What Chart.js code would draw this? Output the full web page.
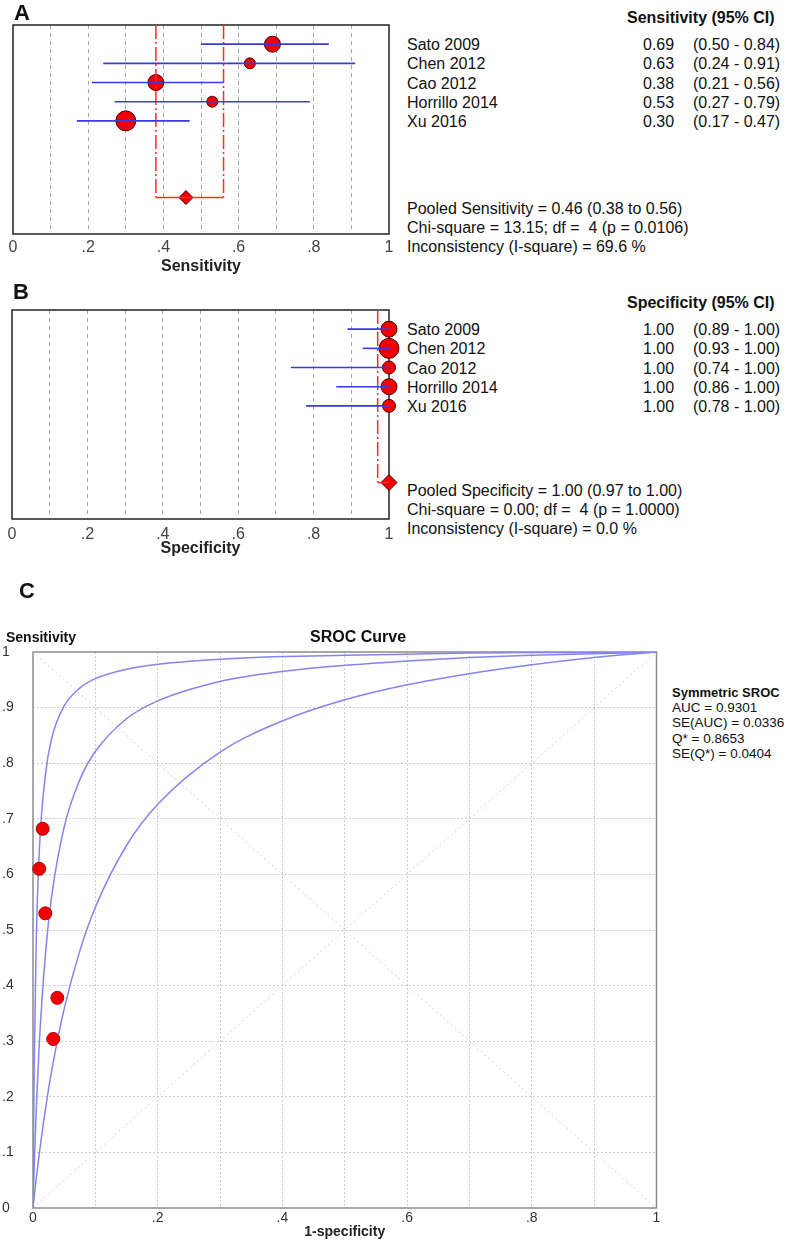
<!DOCTYPE html>
<html>
<head>
<meta charset="utf-8">
<script src="https://cdn.jsdelivr.net/npm/chart.js@4.4.1/dist/chart.umd.min.js"></script>
<style>
body{margin:0;background:#fff;font-family:"Liberation Sans",Arial,sans-serif;color:#111;}
#page{position:relative;width:790px;height:1242px;overflow:hidden;background:#fff;}
canvas{position:absolute;}
.t{position:absolute;white-space:pre;font-size:16px;line-height:20px;}
.b{font-weight:bold;}
</style>
</head>
<body>
<div id="page">
  <canvas id="chartA" width="400" height="280" style="left:0;top:0"></canvas>
  <canvas id="chartB" width="400" height="290" style="left:0;top:280px"></canvas>
  <canvas id="chartC" width="664" height="682" style="left:0;top:560px"></canvas>
</div>
<script>
// study data
const studies = ['Sato 2009', 'Chen 2012', 'Cao 2012', 'Horrillo 2014', 'Xu 2016'];

const sensEst = [0.69, 0.63, 0.38, 0.53, 0.30];
const sensLo  = [0.50, 0.24, 0.21, 0.27, 0.17];
const sensHi  = [0.84, 0.91, 0.56, 0.79, 0.47];
const sensPooled = [0.46, 0.38, 0.56];   // estimate, lower, upper
const sensChi = [13.15, 4, 0.0106];      // chi-square, df, p
const sensIsq = 69.6;

const specEst = [1.00, 1.00, 1.00, 1.00, 1.00];
const specLo  = [0.89, 0.93, 0.74, 0.86, 0.78];
const specHi  = [1.00, 1.00, 1.00, 1.00, 1.00];
const specPooled = [1.00, 0.97, 1.00];
const specChi = [0.00, 4, 1.0000];
const specIsq = 0.0;

const tenthLabels = ['0', '.1', '.2', '.3', '.4', '.5', '.6', '.7', '.8', '.9', '1'];

// SROC: study points (1-specificity, sensitivity)
const srocPtFpr  = [0.0155, 0.010, 0.039, 0.0197, 0.0325];
const srocPtSens = [0.682, 0.610, 0.378, 0.530, 0.304];

// SROC curves
const srocFpr   = [0, 0.001, 0.002, 0.005, 0.01, 0.02, 0.03, 0.05, 0.075, 0.1, 0.15, 0.2, 0.3, 0.4, 0.5, 0.6, 0.7, 0.8, 0.9, 1];
const srocUpper = [0, 0.150, 0.26, 0.47, 0.64, 0.78, 0.845, 0.903, 0.935, 0.952, 0.969, 0.978, 0.987, 0.992, 0.994, 0.996, 0.998, 0.999, 0.999, 1];
const srocMid   = [0, 0.040, 0.076, 0.172, 0.294, 0.457, 0.561, 0.685, 0.770, 0.821, 0.880, 0.912, 0.947, 0.965, 0.976, 0.984, 0.990, 0.994, 0.997, 1];
const srocLower = [0, 0.0105, 0.021, 0.051, 0.097, 0.178, 0.247, 0.358, 0.462, 0.541, 0.652, 0.726, 0.820, 0.876, 0.914, 0.941, 0.961, 0.977, 0.990, 1];

const srocStats = ['AUC = 0.9301', 'SE(AUC) = 0.0336', 'Q* = 0.8653', 'SE(Q*) = 0.0404'];

// marker radii (study weights), style only
const sensRadii = [8, 5.5, 8, 5.5, 10];
const specRadii = [8, 10, 6.5, 8, 6.5];

const RED = '#f00000';
const CI_BLUE = '#3a3ae6';
const page = document.getElementById('page');

function txt(x, y, s, cls, extra) {
  const d = document.createElement('div');
  d.className = 't ' + (cls || '');
  d.textContent = s;
  d.style.left = x + 'px';
  d.style.top = (y - 10) + 'px';
  if (extra) Object.assign(d.style, extra);
  page.appendChild(d);
  return d;
}

const boxPlugin = {
  id: 'box',
  beforeDatasetsDraw(chart, args, opts) {
    const a = chart.chartArea, ctx = chart.ctx;
    ctx.save();
    ctx.strokeStyle = opts.color;
    ctx.lineWidth = opts.width;
    ctx.strokeRect(a.left, a.top, a.right - a.left, a.bottom - a.top);
    ctx.restore();
  }
};

const f2 = v => v.toFixed(2);
const ROW_TOP = -1, ROW_BOTTOM = 9.9, POOLED_ROW = 8;

function forestChart(id, est, lo, hi, pooled, radii, diamondR, axisTitle, pad, tickPad, titlePad) {
  const datasets = [];
  est.forEach((v, i) => {
    datasets.push({data: [{x: lo[i], y: i}, {x: hi[i], y: i}], showLine: true,
      borderColor: CI_BLUE, borderWidth: 1.6, pointRadius: 0, order: 1});
  });
  // dash-dot limits of the pooled CI (the one sitting on the frame is hidden by it)
  [pooled[1], pooled[2]].filter(v => v < 1).forEach(v => {
    datasets.push({data: [{x: v, y: ROW_TOP}, {x: v, y: POOLED_ROW}], showLine: true,
      borderColor: '#ff2a2a', borderWidth: 1.5, borderDash: [14, 3, 2, 3], pointRadius: 0, order: 1});
  });
  datasets.push({data: [{x: pooled[1], y: POOLED_ROW}, {x: pooled[2], y: POOLED_ROW}], showLine: true,
    borderColor: '#ff2a2a', borderWidth: 1.5, pointRadius: 0, order: 1});
  datasets.push({data: est.map((v, i) => ({x: v, y: i})), pointRadius: radii,
    pointBackgroundColor: RED, pointBorderColor: '#4a0000', pointBorderWidth: 1, order: 2, clip: false});
  datasets.push({data: [{x: pooled[0], y: POOLED_ROW}], pointStyle: 'rectRot', pointRadius: diamondR,
    pointBackgroundColor: RED, pointBorderColor: '#4a0000', pointBorderWidth: 1, order: 2, clip: false});

  return new Chart(document.getElementById(id), {
    type: 'scatter',
    data: {datasets},
    options: {
      responsive: false, animation: false, devicePixelRatio: 1,
      layout: {padding: pad},
      plugins: {legend: {display: false}, tooltip: {enabled: false}, box: {color: '#222', width: 1.5}},
      scales: {
        x: {
          type: 'linear', min: 0, max: 1,
          ticks: {stepSize: 0.1, autoSkip: false, maxRotation: 0, padding: tickPad, color: '#444',
            font: {size: 16, family: '"Liberation Sans", Arial'},
            callback: v => { const k = Math.round(v * 10); return k % 2 === 0 ? tenthLabels[k] : ''; }},
          grid: {drawTicks: false, lineWidth: 1,
            color: c => (c.tick && (c.tick.value <= 0.001 || c.tick.value >= 0.999)) ? 'rgba(0,0,0,0)' : '#a8a8a8'},
          border: {display: false, dash: [4, 4]},
          title: {display: true, text: axisTitle, color: '#222',
            font: {size: 16, weight: 'bold', family: '"Liberation Sans", Arial'}, padding: {top: 0, bottom: titlePad}},
          afterFit: s => { s.height = 46; s.paddingLeft = 0; s.paddingRight = 0; }
        },
        y: {type: 'linear', min: ROW_TOP, max: ROW_BOTTOM, reverse: true, display: false}
      }
    },
    plugins: [boxPlugin]
  });
}

const chartA = forestChart('chartA', sensEst, sensLo, sensHi, sensPooled, sensRadii, 7, 'Sensitivity',
  {left: 13, right: 9, top: 25, bottom: 0}, 4, 4);
const chartB = forestChart('chartB', specEst, specLo, specHi, specPooled, specRadii, 8, 'Specificity',
  {left: 12, right: 9, top: 30, bottom: 5}, 6, 7);

function forestText(chart, offsetY, head, est, lo, hi, pooledLines, pooledY) {
  txt(627, offsetY + chart.chartArea.top - 7, head, 'b');
  est.forEach((v, i) => {
    const y = offsetY + chart.scales.y.getPixelForValue(i) + 1;
    txt(407, y, studies[i]);
    txt(643, y, f2(v));
    txt(693, y, '(' + f2(lo[i]) + ' - ' + f2(hi[i]) + ')');
  });
  pooledLines.forEach((s, k) => txt(407, pooledY + k * 19, s));
}

forestText(chartA, 0, 'Sensitivity (95% CI)', sensEst, sensLo, sensHi, [
  'Pooled Sensitivity = ' + f2(sensPooled[0]) + ' (' + f2(sensPooled[1]) + ' to ' + f2(sensPooled[2]) + ')',
  'Chi-square = ' + f2(sensChi[0]) + '; df =  ' + sensChi[1] + ' (p = ' + sensChi[2].toFixed(4) + ')',
  'Inconsistency (I-square) = ' + sensIsq.toFixed(1) + ' %'
], 209);

forestText(chartB, 280, 'Specificity (95% CI)', specEst, specLo, specHi, [
  'Pooled Specificity = ' + f2(specPooled[0]) + ' (' + f2(specPooled[1]) + ' to ' + f2(specPooled[2]) + ')',
  'Chi-square = ' + f2(specChi[0]) + '; df =  ' + specChi[1] + ' (p = ' + specChi[2].toFixed(4) + ')',
  'Inconsistency (I-square) = ' + specIsq.toFixed(1) + ' %'
], 491);

// panel letters
txt(14, 13, 'A', 'b', {fontSize: '22px', lineHeight: '24px', top: '1px'});
txt(13, 292, 'B', 'b', {fontSize: '22px', lineHeight: '24px', top: '280px'});
txt(19, 591, 'C', 'b', {fontSize: '22px', lineHeight: '24px', top: '579px'});

// SROC panel
const toPts = (xs, ys) => xs.map((x, i) => ({x, y: ys[i]}));
const curveStyle = {showLine: true, borderColor: '#8484ee', borderWidth: 1.5, pointRadius: 0,
  cubicInterpolationMode: 'monotone', order: 1};
const diagStyle = {showLine: true, borderColor: '#d4d4d4', borderWidth: 1, borderDash: [2, 3], pointRadius: 0, order: 2};

new Chart(document.getElementById('chartC'), {
  type: 'scatter',
  data: {datasets: [
    {data: toPts(srocPtFpr, srocPtSens), pointRadius: 6.5, pointBackgroundColor: '#f00000',
      pointBorderColor: '#b00000', pointBorderWidth: 1, order: 0, clip: false},
    Object.assign({data: toPts(srocFpr, srocUpper)}, curveStyle),
    Object.assign({data: toPts(srocFpr, srocMid)}, curveStyle),
    Object.assign({data: toPts(srocFpr, srocLower)}, curveStyle),
    Object.assign({data: [{x: 0, y: 0}, {x: 1, y: 1}]}, diagStyle),
    Object.assign({data: [{x: 0, y: 1}, {x: 1, y: 0}]}, diagStyle)
  ]},
  options: {
    responsive: false, animation: false, devicePixelRatio: 1,
    layout: {padding: {left: 2, right: 6, top: 92, bottom: 0}},
    plugins: {legend: {display: false}, tooltip: {enabled: false}, box: {color: '#8a8a8a', width: 1.5}},
    scales: {
      x: {
        type: 'linear', min: 0, max: 1,
        ticks: {stepSize: 0.1, autoSkip: false, maxRotation: 0, padding: 2, color: '#333',
          font: {size: 14, family: '"Liberation Sans", Arial'},
          callback: v => { const k = Math.round(v * 10); return k % 2 === 0 ? tenthLabels[k] : ''; }},
        grid: {drawTicks: false,
          color: c => (c.tick && (c.tick.value <= 0.001 || c.tick.value >= 0.999)) ? 'rgba(0,0,0,0)' : '#cccccc'},
        border: {display: false, dash: [2, 2]},
        title: {display: true, text: '1-specificity', color: '#222',
          font: {size: 14, weight: 'bold', family: '"Liberation Sans", Arial'}, padding: {top: 0, bottom: 1}},
        afterFit: s => { s.height = 34; s.paddingLeft = 0; s.paddingRight = 0; }
      },
      y: {
        type: 'linear', min: 0, max: 1,
        ticks: {stepSize: 0.1, autoSkip: false, padding: 0, crossAlign: 'far', color: '#333',
          font: {size: 14, family: '"Liberation Sans", Arial'},
          callback: v => tenthLabels[Math.round(v * 10)]},
        grid: {drawTicks: false,
          color: c => (c.tick && (c.tick.value <= 0.001 || c.tick.value >= 0.999)) ? 'rgba(0,0,0,0)' : '#cccccc'},
        border: {display: false, dash: [2, 2]},
        afterFit: s => { s.width = 31; s.paddingTop = 0; s.paddingBottom = 0; }
      }
    }
  },
  plugins: [boxPlugin]
});

txt(6, 637, 'Sensitivity', 'b', {fontSize: '14px'});
txt(310, 637, 'SROC Curve', 'b', {fontSize: '16px'});
txt(672, 693, 'Symmetric SROC', 'b', {fontSize: '13px', lineHeight: '20px'});
srocStats.forEach((s, k) => txt(672, 708 + k * 15.3, s, '', {fontSize: '13.5px'}));
</script>
</body>
</html>
